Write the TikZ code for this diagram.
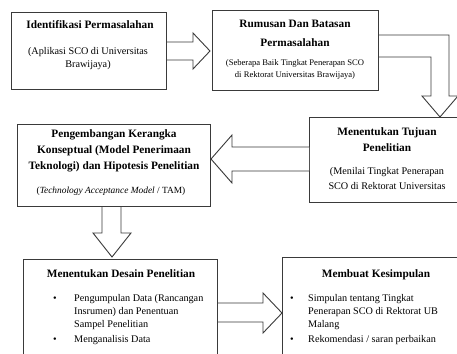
\documentclass[tikz,border=0pt]{standalone}
\usepackage{fontspec}
\setmainfont{Liberation Serif}
\usetikzlibrary{calc}
\definecolor{boxgray}{HTML}{3A3A3A}
\begin{document}
\begin{tikzpicture}[x=1pt,y=-1pt,
  box/.style={draw=boxgray, line width=1pt, fill=white, inner sep=0pt, anchor=north west},
  blockarrow/.style={draw=boxgray, line width=0.9pt, fill=white, line join=miter},
  ttl/.style={font=\fontsize{11.3}{16}\selectfont\bfseries, inner sep=0pt, anchor=base},
  sub/.style={font=\fontsize{10.2}{13.5}\selectfont, inner sep=0pt, anchor=base},
  subsm/.style={font=\fontsize{8.6}{11.5}\selectfont, inner sep=0pt, anchor=base},
  itm/.style={font=\fontsize{10.2}{13}\selectfont, inner sep=0pt, anchor=base west},
  bul/.style={font=\fontsize{10.2}{13}\selectfont, inner sep=0pt, anchor=base}]
\useasboundingbox (0,0) rectangle (457,353);
\clip (0,0) rectangle (457,353);
% boxes
\node[box, minimum width=155pt, minimum height=77pt] (b1) at (11,12) {};
\node[box, minimum width=166pt, minimum height=80pt] (b2) at (212,10) {};
\node[box, minimum width=157pt, minimum height=85pt] (b3) at (309,117) {};
\node[box, minimum width=193pt, minimum height=82pt] (b4) at (17,124) {};
\node[box, minimum width=194pt, minimum height=110pt] (b5) at (23,259) {};
\node[box, minimum width=188pt, minimum height=110pt] (b6) at (282,257) {};
% block arrows
\draw[blockarrow] (b1.east |- 0,42) -- (193,42) -- (193,33) -- (210,51) -- (193,69) -- (193,60) -- (b1.east |- 0,60);
\draw[blockarrow] (b2.east |- 0,35) -- (449,35) -- (449,96) -- (458,96) -- (b3.north -| 440,0) -- (422,96) -- (431,96) -- (431,57) -- (b2.east |- 0,57);
\draw[blockarrow] (b3.west |- 0,147) -- (232,147) -- (232,135) -- (b4.east |- 0,159) -- (232,183) -- (232,171) -- (b3.west |- 0,171);
\draw[blockarrow] (b4.south -| 102,0) -- (102,233) -- (93,233) -- (112,257) -- (131,233) -- (121,233) -- (b4.south -| 121,0);
\draw[blockarrow] (b5.east |- 0,303) -- (263,303) -- (263,293) -- (b6.west |- 0,313) -- (263,333) -- (263,322) -- (b5.east |- 0,322);
% texts box 1
\node[ttl] (t1) at (90,29) {Identifikasi Permasalahan};
\node[sub] (s1a) at (88,54) {(Aplikasi SCO di Universitas};
\node[sub] (s1b) at (88,67.5) {Brawijaya)};
% box 2
\node[ttl] (t2a) at (295,28) {Rumusan Dan Batasan};
\node[ttl] (t2b) at (295,46) {Permasalahan};
\node[subsm] (s2a) at (295,65) {(Seberapa Baik Tingkat Penerapan SCO};
\node[subsm] (s2b) at (295,77) {di Rektorat Universitas Brawijaya)};
% box 3
\node[ttl] (t3a) at (387,135) {Menentukan Tujuan};
\node[ttl] (t3b) at (387,151) {Penelitian};
\node[sub] (s3a) at (387,174) {(Menilai Tingkat Penerapan};
\node[sub] (s3b) at (387,189) {SCO di Rektorat Universitas};
% box 4
\node[ttl] (t4a) at (114,137) {Pengembangan Kerangka};
\node[ttl] (t4b) at (114,153) {Konseptual (Model Penerimaan};
\node[ttl] (t4c) at (114,169) {Teknologi) dan Hipotesis Penelitian};
\node[sub, font=\fontsize{9.4}{12}\selectfont] (s4) at (111,193) {(\textit{Technology Acceptance Model} / TAM)};
% box 5
\node[ttl] (t5) at (121,277) {Menentukan Desain Penelitian};
\node[bul] (u5a) at (55,301) {•};
\node[itm] (i5a) at (74,301) {Pengumpulan Data (Rancangan};
\node[itm] (i5b) at (74,314) {Insrumen) dan Penentuan};
\node[itm] (i5c) at (74,327) {Sampel Penelitian};
\node[bul] (u5b) at (55,342) {•};
\node[itm] (i5d) at (74,342) {Menganalisis Data};
% box 6
\node[ttl] (t6) at (376,277) {Membuat Kesimpulan};
\node[bul] (u6a) at (292,301) {•};
\node[itm] (i6a) at (308,301) {Simpulan tentang Tingkat};
\node[itm] (i6b) at (308,314) {Penerapan SCO di Rektorat UB};
\node[itm] (i6c) at (308,327) {Malang};
\node[bul] (u6b) at (292,342) {•};
\node[itm] (i6d) at (308,342) {Rekomendasi / saran perbaikan};
\end{tikzpicture}
\end{document}
